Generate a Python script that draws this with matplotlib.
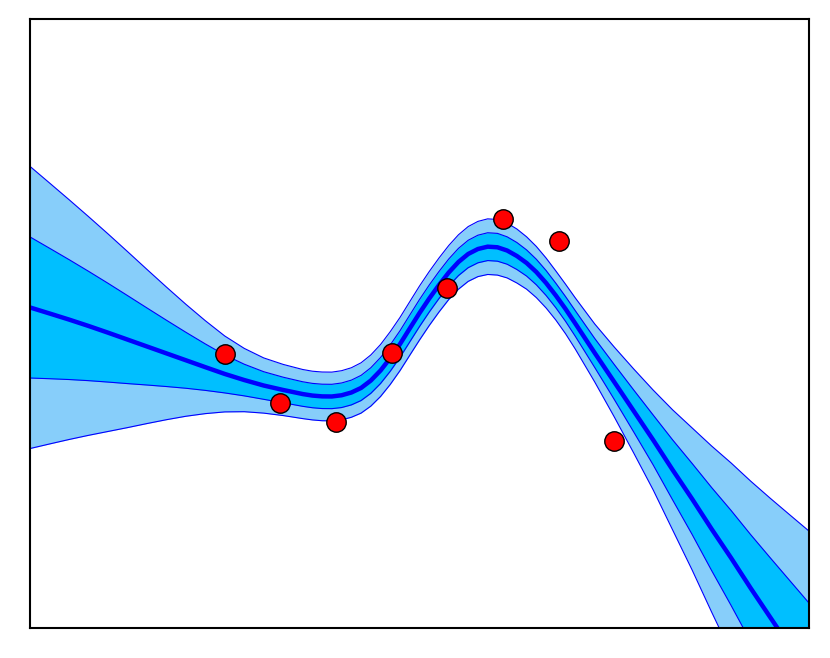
import numpy as np
import matplotlib
matplotlib.use("Agg")
import matplotlib.pyplot as plt

# --- Data (GP posterior: mean and std) ---
x_grid = [0.0, 0.25, 0.5, 0.75, 1.0, 1.25, 1.5, 1.75, 2.0, 2.25, 2.5, 2.75,
          3.0, 3.25, 3.5, 3.625, 3.75, 3.875, 4.0, 4.125, 4.25, 4.375, 4.5,
          4.625, 4.75, 4.875, 5.0, 5.125, 5.25, 5.375, 5.5, 5.625, 5.75,
          5.875, 6.0, 6.125, 6.25, 6.375, 6.5, 6.625, 6.75, 6.875, 7.0,
          7.25, 7.5, 7.75, 8.0, 8.25, 8.5, 8.75, 9.0, 9.25, 9.5, 9.75, 10.0]
mean = [0.158, 0.099, 0.039, -0.024, -0.090, -0.158, -0.226, -0.294,
        -0.362, -0.430, -0.497, -0.557, -0.611, -0.655, -0.695, -0.710,
        -0.718, -0.719, -0.707, -0.680, -0.635, -0.562, -0.463, -0.340,
        -0.202, -0.049, 0.103, 0.246, 0.379, 0.502, 0.606, 0.685, 0.734,
        0.757, 0.751, 0.719, 0.665, 0.596, 0.507, 0.399, 0.276, 0.143,
        0.000, -0.291, -0.576, -0.862, -1.148, -1.443, -1.729, -2.025,
        -2.310, -2.606, -2.892, -3.177, -3.463]
std = [0.695, 0.643, 0.591, 0.539, 0.487, 0.434, 0.380, 0.327, 0.276,
       0.229, 0.187, 0.156, 0.136, 0.126, 0.121, 0.120, 0.120, 0.120,
       0.121, 0.122, 0.124, 0.126, 0.128, 0.130, 0.131, 0.132, 0.133,
       0.133, 0.133, 0.133, 0.134, 0.135, 0.136, 0.137, 0.137, 0.135,
       0.133, 0.129, 0.126, 0.123, 0.121, 0.122, 0.126, 0.143, 0.172,
       0.207, 0.246, 0.296, 0.350, 0.409, 0.468, 0.527, 0.586, 0.647,
       0.709]

# observed points
x_obs = [2.5, 3.214, 3.929, 4.643, 5.357, 6.071, 6.786, 7.5]
y_obs = [-0.300, -0.780, -0.967, -0.294, 0.353, 1.030, 0.810, -1.153]

x_grid = np.array(x_grid)
mean = np.array(mean)
std = np.array(std)

# --- Plot ---
fig = plt.figure(figsize=(8.3, 6.58), dpi=100)
ax = fig.add_axes([30 / 830, 1 - 628 / 658, 779 / 830, 609 / 658])

# 2 sigma band
ax.fill_between(x_grid, mean - 2 * std, mean + 2 * std,
                color="lightskyblue", linewidth=0)
# 1 sigma band
ax.fill_between(x_grid, mean - std, mean + std,
                color="deepskyblue", linewidth=0)

for k in [-2, -1, 1, 2]:
    ax.plot(x_grid, mean + k * std, color="blue", linewidth=0.8)

ax.plot(x_grid, mean, color="blue", linewidth=3.2)

ax.plot(x_obs, y_obs, "o", color="red", markeredgecolor="black",
        markeredgewidth=1, markersize=14, zorder=5)

ax.set_xlim(0, 10)
ax.set_ylim(-3, 3)
ax.set_xticks([])
ax.set_yticks([])
for s in ax.spines.values():
    s.set_linewidth(1.5)

fig.savefig("out.png", dpi=100)
